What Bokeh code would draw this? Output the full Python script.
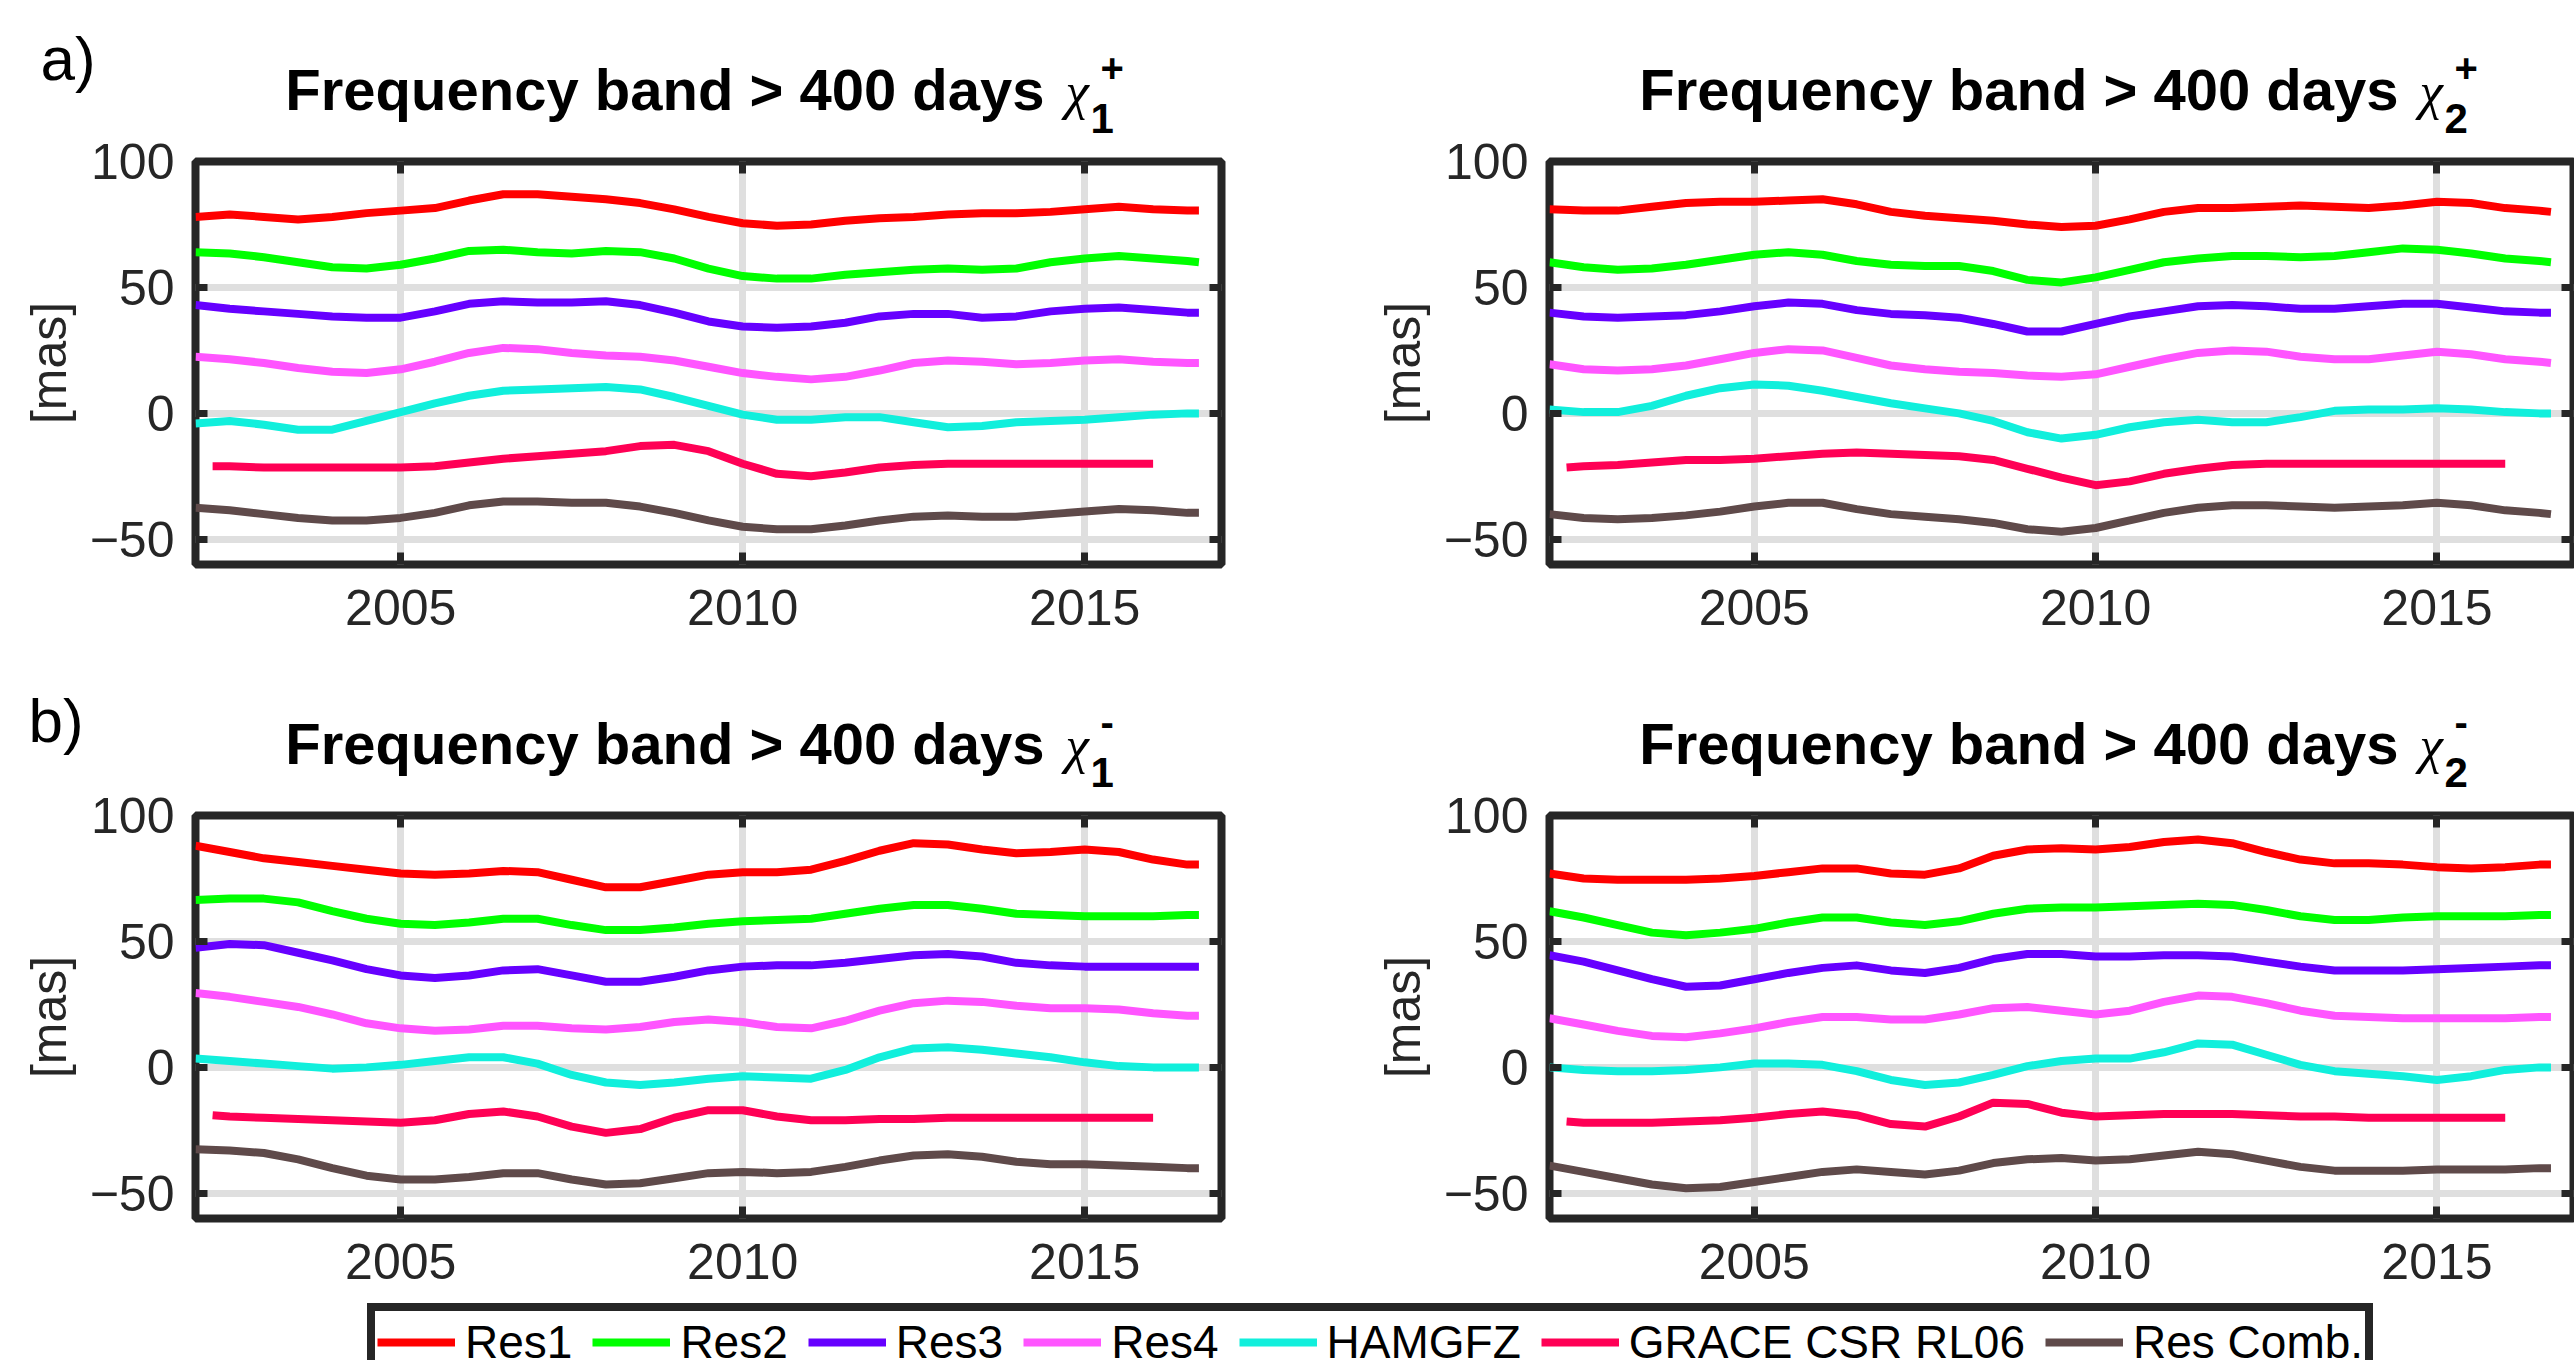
from bokeh.plotting import figure
from bokeh.models import Range1d, FixedTicker, LinearAxis, Label, Legend, LegendItem
from bokeh.layouts import row, column
from bokeh.embed import file_html
from bokeh.resources import INLINE

# ---------------- data ----------------
YEARS = [2002.0, 2002.5, 2003.0, 2003.5, 2004.0, 2004.5, 2005.0, 2005.5, 2006.0, 2006.5,
         2007.0, 2007.5, 2008.0, 2008.5, 2009.0, 2009.5, 2010.0, 2010.5, 2011.0, 2011.5,
         2012.0, 2012.5, 2013.0, 2013.5, 2014.0, 2014.5, 2015.0, 2015.5, 2016.0, 2016.5, 2016.67]
GRACE_YEARS = [2002.25, 2002.5, 2003.0, 2003.5, 2004.0, 2004.5, 2005.0, 2005.5, 2006.0, 2006.5,
               2007.0, 2007.5, 2008.0, 2008.5, 2009.0, 2009.5, 2010.0, 2010.5, 2011.0, 2011.5,
               2012.0, 2012.5, 2013.0, 2013.5, 2014.0, 2014.5, 2015.0, 2015.5, 2016.0]

SERIES = ["Res1", "Res2", "Res3", "Res4", "HAMGFZ", "GRACE CSR RL06", "Res Comb."]
COLORS = ["#ff0000", "#00ff00", "#6600ff", "#ff55ff", "#11efdc", "#ff0055", "#5f4a4a"]

X_TICKS = [2005, 2010, 2015]
Y_TICKS = [-50, 0, 50, 100]

# a) chi1 +
chi1p_res1 = [78, 79, 78, 77, 78, 79.5, 80.5, 81.5, 84.5, 87, 87, 86, 85, 83.5, 81, 78, 75.5, 74.5, 75, 76.5, 77.5, 78, 79, 79.5, 79.5, 80, 81, 82, 81, 80.5, 80.5]
chi1p_res2 = [64, 63.5, 62, 60, 58, 57.5, 59, 61.5, 64.5, 65, 64, 63.5, 64.5, 64, 61.5, 57.5, 54.5, 53.5, 53.5, 55, 56, 57, 57.5, 57, 57.5, 60, 61.5, 62.5, 61.5, 60.5, 60]
chi1p_res3 = [43, 41.5, 40.5, 39.5, 38.5, 38, 38, 40.5, 43.5, 44.5, 44, 44, 44.5, 43, 40, 36.5, 34.5, 34, 34.5, 36, 38.5, 39.5, 39.5, 38, 38.5, 40.5, 41.5, 42, 41, 40, 40]
chi1p_res4 = [22.5, 21.5, 20, 18, 16.5, 16, 17.5, 20.5, 24, 26, 25.5, 24, 23, 22.5, 21, 18.5, 16, 14.5, 13.5, 14.5, 17, 20, 21, 20.5, 19.5, 20, 21, 21.5, 20.5, 20, 20]
chi1p_ham = [-4, -3, -4.5, -6.5, -6.5, -3, 0.5, 4, 7, 9, 9.5, 10, 10.5, 9.5, 6.5, 3, -0.5, -2.5, -2.5, -1.5, -1.5, -3.5, -5.5, -5, -3.5, -3, -2.5, -1.5, -0.5, 0, 0]
chi1p_grace = [-21, -21, -21.5, -21.5, -21.5, -21.5, -21.5, -21, -19.5, -18, -17, -16, -15, -13, -12.5, -15, -20, -24, -25, -23.5, -21.5, -20.5, -20, -20, -20, -20, -20, -20, -20]
chi1p_comb = [-37.5, -38.5, -40, -41.5, -42.5, -42.5, -41.5, -39.5, -36.5, -35, -35, -35.5, -35.5, -37, -39.5, -42.5, -45, -46, -46, -44.5, -42.5, -41, -40.5, -41, -41, -40, -39, -38, -38.5, -39.5, -39.5]

# a) chi2 +
chi2p_res1 = [81, 80.5, 80.5, 82, 83.5, 84, 84, 84.5, 85, 83, 80, 78.5, 77.5, 76.5, 75, 74, 74.5, 77, 80, 81.5, 81.5, 82, 82.5, 82, 81.5, 82.5, 84, 83.5, 81.5, 80.5, 80]
chi2p_res2 = [60, 58, 57, 57.5, 59, 61, 63, 64, 63, 60.5, 59, 58.5, 58.5, 56.5, 53, 52, 54, 57, 60, 61.5, 62.5, 62.5, 62, 62.5, 64, 65.5, 65, 63.5, 61.5, 60.5, 60]
chi2p_res3 = [40, 38.5, 38, 38.5, 39, 40.5, 42.5, 44, 43.5, 41, 39.5, 39, 38, 35.5, 32.5, 32.5, 35.5, 38.5, 40.5, 42.5, 43, 42.5, 41.5, 41.5, 42.5, 43.5, 43.5, 42, 40.5, 40, 40]
chi2p_res4 = [19.5, 17.5, 17, 17.5, 19, 21.5, 24, 25.5, 25, 22, 19, 17.5, 16.5, 16, 15, 14.5, 15.5, 18.5, 21.5, 24, 25, 24.5, 22.5, 21.5, 21.5, 23, 24.5, 23.5, 21.5, 20.5, 20]
chi2p_ham = [1.5, 0.5, 0.5, 3, 7, 10, 11.5, 11, 9, 6.5, 4, 2, 0, -3, -7.5, -10, -8.5, -5.5, -3.5, -2.5, -3.5, -3.5, -1.5, 1, 1.5, 1.5, 2, 1.5, 0.5, 0, 0]
chi2p_grace = [-21.5, -21, -20.5, -19.5, -18.5, -18.5, -18, -17, -16, -15.5, -16, -16.5, -17, -18.5, -22, -25.5, -28.5, -27, -24, -22, -20.5, -20, -20, -20, -20, -20, -20, -20, -20]
chi2p_comb = [-40, -41.5, -42, -41.5, -40.5, -39, -37, -35.5, -35.5, -38, -40, -41, -42, -43.5, -46, -47, -45.5, -42.5, -39.5, -37.5, -36.5, -36.5, -37, -37.5, -37, -36.5, -35.5, -36.5, -38.5, -39.5, -40]

# b) chi1 -
chi1m_res1 = [88, 85.5, 83, 81.5, 80, 78.5, 77, 76.5, 77, 78, 77.5, 74.5, 71.5, 71.5, 74, 76.5, 77.5, 77.5, 78.5, 82, 86, 89, 88.5, 86.5, 85, 85.5, 86.5, 85.5, 82.5, 80.5, 80.5]
chi1m_res2 = [66.5, 67, 67, 65.5, 62, 59, 57, 56.5, 57.5, 59, 59, 56.5, 54.5, 54.5, 55.5, 57, 58, 58.5, 59, 61, 63, 64.5, 64.5, 63, 61, 60.5, 60, 60, 60, 60.5, 60.5]
chi1m_res3 = [47.5, 49, 48.5, 45.5, 42.5, 39, 36.5, 35.5, 36.5, 38.5, 39, 36.5, 34, 34, 36, 38.5, 40, 40.5, 40.5, 41.5, 43, 44.5, 45, 44, 41.5, 40.5, 40, 40, 40, 40, 40]
chi1m_res4 = [29.5, 28, 26, 24, 21, 17.5, 15.5, 14.5, 15, 16.5, 16.5, 15.5, 15, 16, 18, 19, 18, 16, 15.5, 18.5, 22.5, 25.5, 26.5, 26, 24.5, 23.5, 23.5, 23, 21.5, 20.5, 20.5]
chi1m_ham = [3.5, 2.5, 1.5, 0.5, -0.5, 0, 1, 2.5, 4, 4, 1.5, -3, -6, -7, -6, -4.5, -3.5, -4, -4.5, -1, 4, 7.5, 8, 7, 5.5, 4, 2, 0.5, 0, 0, 0]
chi1m_grace = [-19, -19.5, -20, -20.5, -21, -21.5, -22, -21, -18.5, -17.5, -19.5, -23.5, -26, -24.5, -20, -17, -17, -19.5, -21, -21, -20.5, -20.5, -20, -20, -20, -20, -20, -20, -20]
chi1m_comb = [-32.5, -33, -34, -36.5, -40, -43, -44.5, -44.5, -43.5, -42, -42, -44.5, -46.5, -46, -44, -42, -41.5, -42, -41.5, -39.5, -37, -35, -34.5, -35.5, -37.5, -38.5, -38.5, -39, -39.5, -40, -40]

# b) chi2 -
chi2m_res1 = [77, 75, 74.5, 74.5, 74.5, 75, 76, 77.5, 79, 79, 77, 76.5, 79, 84, 86.5, 87, 86.5, 87.5, 89.5, 90.5, 89, 85.5, 82.5, 81, 81, 80.5, 79.5, 79, 79.5, 80.5, 80.5]
chi2m_res2 = [62, 59.5, 56.5, 53.5, 52.5, 53.5, 55, 57.5, 59.5, 59.5, 57.5, 56.5, 58, 61, 63, 63.5, 63.5, 64, 64.5, 65, 64.5, 62.5, 60, 58.5, 58.5, 59.5, 60, 60, 60, 60.5, 60.5]
chi2m_res3 = [44.5, 42, 38.5, 35, 32, 32.5, 35, 37.5, 39.5, 40.5, 38.5, 37.5, 39.5, 43, 45, 45, 44, 44, 44.5, 44.5, 44, 42, 40, 38.5, 38.5, 38.5, 39, 39.5, 40, 40.5, 40.5]
chi2m_res4 = [19.5, 17, 14.5, 12.5, 12, 13.5, 15.5, 18, 20, 20, 19, 19, 21, 23.5, 24, 22.5, 21, 22.5, 26, 28.5, 28, 25.5, 22.5, 20.5, 20, 19.5, 19.5, 19.5, 19.5, 20, 20]
chi2m_ham = [0, -1, -1.5, -1.5, -1, 0, 1.5, 1.5, 1, -1.5, -5, -7, -6, -3, 0.5, 2.5, 3.5, 3.5, 6, 9.5, 9, 5, 1, -1.5, -2.5, -3.5, -5, -3.5, -1, 0, 0]
chi2m_grace = [-21.5, -22, -22, -22, -21.5, -21, -20, -18.5, -17.5, -19, -22.5, -23.5, -19.5, -14, -14.5, -18, -19.5, -19, -18.5, -18.5, -18.5, -19, -19.5, -19.5, -20, -20, -20, -20, -20]
chi2m_comb = [-39, -41.5, -44, -46.5, -48, -47.5, -45.5, -43.5, -41.5, -40.5, -41.5, -42.5, -41, -38, -36.5, -36, -37, -36.5, -35, -33.5, -34.5, -37, -39.5, -41, -41, -41, -40.5, -40.5, -40.5, -40, -40]

PANELS = [
    [chi1p_res1, chi1p_res2, chi1p_res3, chi1p_res4, chi1p_ham, chi1p_grace, chi1p_comb],
    [chi2p_res1, chi2p_res2, chi2p_res3, chi2p_res4, chi2p_ham, chi2p_grace, chi2p_comb],
    [chi1m_res1, chi1m_res2, chi1m_res3, chi1m_res4, chi1m_ham, chi1m_grace, chi1m_comb],
    [chi2m_res1, chi2m_res2, chi2m_res3, chi2m_res4, chi2m_ham, chi2m_grace, chi2m_comb],
]
TITLE_TEXT = "Frequency band > 400 days"
TITLE_SUB = ["1", "2", "1", "2"]
TITLE_SUP = ["+", "+", "-", "-"]
PANEL_LETTERS = ["a)", None, "b)", None]

# ---------------- styling / geometry ----------------
AX = "#262626"
GRID = "#dfdfdf"
FONT = "Liberation Sans"
FRAME_H = 403
LEFT_B = [195, 228]
FRAME_W = [1026, 1024]
RIGHT_B = [100, 1]
BASE_SHIFT = 0.36   # label anchor correction (fraction of font size)


def base_fig(w, h, **kw):
    return figure(width=w, height=h, output_backend="svg", toolbar_location=None, title=None, **kw)


def mirror_axis(ticks):
    ax = LinearAxis(ticker=FixedTicker(ticks=ticks))
    ax.axis_line_color = None
    ax.major_tick_in = 12
    ax.major_tick_out = 0
    ax.major_tick_line_width = 7
    ax.major_tick_line_color = AX
    ax.minor_tick_line_color = None
    ax.major_label_text_font_size = "0px"
    ax.major_label_text_color = None
    ax.major_label_standoff = 0
    return ax


def make_panel(idx, top_b, bottom_b):
    c = idx % 2
    p = base_fig(LEFT_B[c] + FRAME_W[c] + RIGHT_B[c], top_b + FRAME_H + bottom_b,
                 x_range=Range1d(2002, 2017), y_range=Range1d(-60, 100),
                 min_border_left=LEFT_B[c], min_border_right=RIGHT_B[c],
                 min_border_top=top_b, min_border_bottom=bottom_b)
    p.background_fill_color = "white"
    p.border_fill_color = "white"
    p.outline_line_color = AX
    p.outline_line_width = 8

    xa = p.below[0]
    ya = p.left[0]
    xa.ticker = FixedTicker(ticks=X_TICKS)
    ya.ticker = FixedTicker(ticks=Y_TICKS)
    for ax in (xa, ya):
        ax.axis_line_color = None
        ax.major_tick_in = 12
        ax.major_tick_out = 0
        ax.major_tick_line_width = 7
        ax.major_tick_line_color = AX
        ax.minor_tick_line_color = None
        ax.major_label_text_font = FONT
        ax.major_label_text_font_size = "50px"
        ax.major_label_text_color = AX
    xa.major_label_standoff = 25
    ya.major_label_standoff = 21
    ya.axis_label = "[mas]"
    ya.axis_label_text_font = FONT
    ya.axis_label_text_font_size = "50px"
    ya.axis_label_text_font_style = "normal"
    ya.axis_label_text_color = AX
    ya.axis_label_standoff = 10

    p.add_layout(mirror_axis(X_TICKS), "above")
    p.add_layout(mirror_axis(Y_TICKS), "right")

    p.xgrid.grid_line_color = GRID
    p.xgrid.grid_line_width = 7
    p.ygrid.grid_line_color = GRID
    p.ygrid.grid_line_width = 7

    for k, (vals, col) in enumerate(zip(PANELS[idx], COLORS)):
        xs = GRACE_YEARS if k == 5 else YEARS
        p.line(xs, vals, line_color=col, line_width=8, line_join="round", line_cap="butt")
    return p


def txt(x, y, text, size, font=FONT, style="normal", align="left"):
    return Label(x=x, y=y + BASE_SHIFT * size, x_units="screen", y_units="screen", text=text,
                 text_font=font, text_font_style=style, text_font_size=f"{size}px",
                 text_align=align, text_baseline="alphabetic", text_color="black")


def make_title(idx, h, letter_xy):
    c = idx % 2
    w = LEFT_B[c] + FRAME_W[c] + RIGHT_B[c]
    t = base_fig(w, h, x_range=Range1d(0, 1), y_range=Range1d(0, 1),
                 x_axis_location=None, y_axis_location=None,
                 min_border_left=0, min_border_right=0, min_border_top=0, min_border_bottom=0)
    t.grid.visible = False
    t.outline_line_color = None
    L = LEFT_B[c]
    t.add_layout(txt(L + 849, 31, TITLE_TEXT, 58, style="bold", align="right"))
    t.add_layout(txt(L + 870, 31, "\u03c7", 53, font="Liberation Serif", style="italic"))
    t.add_layout(txt(L + 895, 8, TITLE_SUB[idx], 42, style="bold"))
    t.add_layout(txt(L + 905, 59, TITLE_SUP[idx], 40, style="bold"))
    if PANEL_LETTERS[idx] is not None:
        t.add_layout(txt(letter_xy[0], letter_xy[1], PANEL_LETTERS[idx], 62))
    return t


# row 1: title strip 0..141, panels 141..660 (frame 161..564)
t1 = make_title(0, 141, (40, 61))
t2 = make_title(1, 141, None)
f1 = make_panel(0, 20, 96)
f2 = make_panel(1, 20, 96)
# row 2: title strip 660..795, panels 795..1300 (frame 815..1218)
t3 = make_title(2, 135, (28, 53))
t4 = make_title(3, 135, None)
f3 = make_panel(2, 20, 82)
f4 = make_panel(3, 20, 82)

# ---------------- legend strip 1300..1360 ----------------
lf = base_fig(2574, 60, x_range=Range1d(0, 1), y_range=Range1d(0, 1),
              x_axis_location=None, y_axis_location=None,
              min_border_left=364, min_border_right=0, min_border_top=0, min_border_bottom=0)
lf.grid.visible = False
lf.outline_line_color = None
# legend glyph carriers: the first panel's series, lying outside this strip's ranges
rends = []
for k, (vals, col) in enumerate(zip(PANELS[0], COLORS)):
    xs = GRACE_YEARS if k == 5 else YEARS
    rends.append(lf.line(xs, vals, line_color=col, line_width=8, line_cap="butt"))
legend = Legend(items=[LegendItem(label=n, renderers=[r]) for n, r in zip(SERIES, rends)],
                orientation="horizontal", location="top_left", margin=3,
                glyph_width=78, glyph_height=58, label_height=58, label_standoff=10,
                spacing=20, padding=2,
                label_text_font=FONT, label_text_font_size="46px", label_text_color="black",
                border_line_color=AX, border_line_width=8, border_line_alpha=1.0,
                background_fill_color="white", background_fill_alpha=1.0)
lf.add_layout(legend)

layout = column(row(t1, t2), row(f1, f2), row(t3, t4), row(f3, f4), lf)

with open("out.html", "w") as fh:
    fh.write(file_html(layout, INLINE))
